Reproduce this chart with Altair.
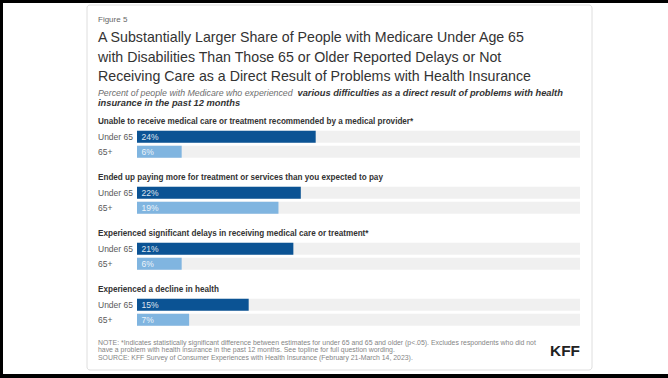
import altair as alt
import pandas as pd

CATEGORIES = [
    "Unable to receive medical care or treatment recommended by a medical provider*",
    "Ended up paying more for treatment or services than you expected to pay",
    "Experienced significant delays in receiving medical care or treatment*",
    "Experienced a decline in health",
]
AGES = ["Under 65", "65+"]
UNDER_65 = [24, 22, 21, 15]
OVER_65 = [6, 19, 6, 7]
XMAX = 59.5

FIGNUM = "Figure 5"
TITLE_LINES = [
    "A Substantially Larger Share of People with Medicare Under Age 65",
    "with Disabilities Than Those 65 or Older Reported Delays or Not",
    "Receiving Care as a Direct Result of Problems with Health Insurance",
]
SUB_A = "Percent of people with Medicare who experienced"
SUB_B = "various difficulties as a direct result of problems with health"
SUB_C = "insurance in the past 12 months"
NOTE_LINES = [
    "NOTE: *Indicates statistically significant difference between estimates for under 65 and 65 and older (p<.05). Excludes respondents who did not",
    "have a problem with health insurance in the past 12 months. See topline for full question wording.",
    "SOURCE: KFF Survey of Consumer Experiences with Health Insurance (February 21-March 14, 2023).",
]
LOGO = "KFF"

FONT = "Liberation Sans"
DARK = "#0b5394"
LIGHT = "#80b5e0"

rows = []
for c, u, o in zip(CATEGORIES, UNDER_65, OVER_65):
    rows.append({"cat": c, "age": "Under 65", "value": u})
    rows.append({"cat": c, "age": "65+", "value": o})
df = pd.DataFrame(rows)
lab = pd.DataFrame({"cat": CATEGORIES, "age": ["label"] * len(CATEGORIES)})
one = pd.DataFrame({"a": [0]})

xs = alt.Scale(domain=[0, XMAX], range=[137, 580], nice=False, zero=True)
ys = alt.Scale(domain=CATEGORIES, range=[115.7, 325.7], paddingInner=0.25, paddingOuter=0)
yo = alt.Scale(domain=["label", "Under 65", "65+"], paddingInner=0.2, paddingOuter=0)

Y = alt.Y("cat:N", scale=ys, axis=None)
YO = alt.YOffset("age:N", scale=yo)

frame_top = alt.Chart(one).mark_rect(color="black").encode(
    x=alt.value(0), x2=alt.value(668), y=alt.value(0), y2=alt.value(3))
frame_left = alt.Chart(one).mark_rect(color="black").encode(
    x=alt.value(0), x2=alt.value(3), y=alt.value(0), y2=alt.value(378))
frame_bot = alt.Chart(one).mark_rect(color="black").encode(
    x=alt.value(0), x2=alt.value(668), y=alt.value(374), y2=alt.value(378))
card = alt.Chart(one).mark_rect(fill="white", stroke="#dedede", strokeWidth=1, cornerRadius=3).encode(
    x=alt.value(87), x2=alt.value(592), y=alt.value(5), y2=alt.value(370))

track = alt.Chart(df).mark_bar(color="#f0f0f0").encode(
    x=alt.X(datum=0, scale=xs, axis=None), x2=alt.X2(datum=XMAX), y=Y, yOffset=YO)
bars = alt.Chart(df).mark_bar().encode(
    x=alt.X("value:Q", scale=xs, axis=None), y=Y, yOffset=YO,
    color=alt.Color("age:N", scale=alt.Scale(domain=AGES, range=[DARK, LIGHT]), legend=None))
vals = alt.Chart(df).transform_calculate(lbl="datum.value + '%'").mark_text(
    align="left", baseline="middle", dx=4.5, fontSize=8.5, color="white", opacity=0.85, font=FONT
).encode(x=alt.X(datum=0, scale=xs), y=Y, yOffset=YO, text="lbl:N")
agel = alt.Chart(df).mark_text(align="left", baseline="middle", fontSize=8.5, color="#5a5a5a", font=FONT).encode(
    x=alt.value(98), y=Y, yOffset=YO, text="age:N")
catl = alt.Chart(lab).mark_text(align="left", baseline="middle", fontSize=8.15, fontWeight="bold", color="#333333", font=FONT).encode(
    x=alt.value(98), y=Y, yOffset=YO, text="cat:N")

fig = alt.Chart(one).mark_text(align="left", baseline="middle", fontSize=8, color="#666666", font=FONT).encode(
    x=alt.value(98), y=alt.value(20), text=alt.value(FIGNUM))
title = alt.Chart(one).mark_text(align="left", baseline="middle", fontSize=14.2, lineHeight=19.5, lineBreak="\n",
                                 color="#333333", font=FONT).encode(
    x=alt.value(98), y=alt.value(38), text=alt.value("\n".join(TITLE_LINES)))
subA = alt.Chart(one).mark_text(align="left", baseline="middle", fontSize=8.8, fontStyle="italic", color="#6e6e6e", font=FONT).encode(
    x=alt.value(98), y=alt.value(93), text=alt.value(SUB_A))
subB = alt.Chart(one).mark_text(align="left", baseline="middle", fontSize=9.3, fontStyle="italic", fontWeight="bold", color="#333333", font=FONT).encode(
    x=alt.value(297.5), y=alt.value(93), text=alt.value(SUB_B))
subC = alt.Chart(one).mark_text(align="left", baseline="middle", fontSize=9.3, fontStyle="italic", fontWeight="bold", color="#333333", font=FONT).encode(
    x=alt.value(98), y=alt.value(102.5), text=alt.value(SUB_C))
note = alt.Chart(one).mark_text(align="left", baseline="middle", fontSize=6.9, lineHeight=7.2, lineBreak="\n",
                                color="#858585", font=FONT).encode(
    x=alt.value(98), y=alt.value(343.3), text=alt.value("\n".join(NOTE_LINES)))
logo = alt.Chart(one).mark_text(align="right", baseline="middle", fontSize=15.4, fontWeight="bold", color="#222222", font=FONT).encode(
    x=alt.value(580), y=alt.value(351), text=alt.value(LOGO))

chart = alt.layer(
    frame_top, frame_left, frame_bot, card, track, bars, vals, agel, catl,
    fig, title, subA, subB, subC, note, logo
).properties(width=668, height=378, autosize="none", padding=0).configure_view(stroke=None).configure(background="white")

chart.save("out.html", embed_options={"renderer": "svg", "actions": False})
